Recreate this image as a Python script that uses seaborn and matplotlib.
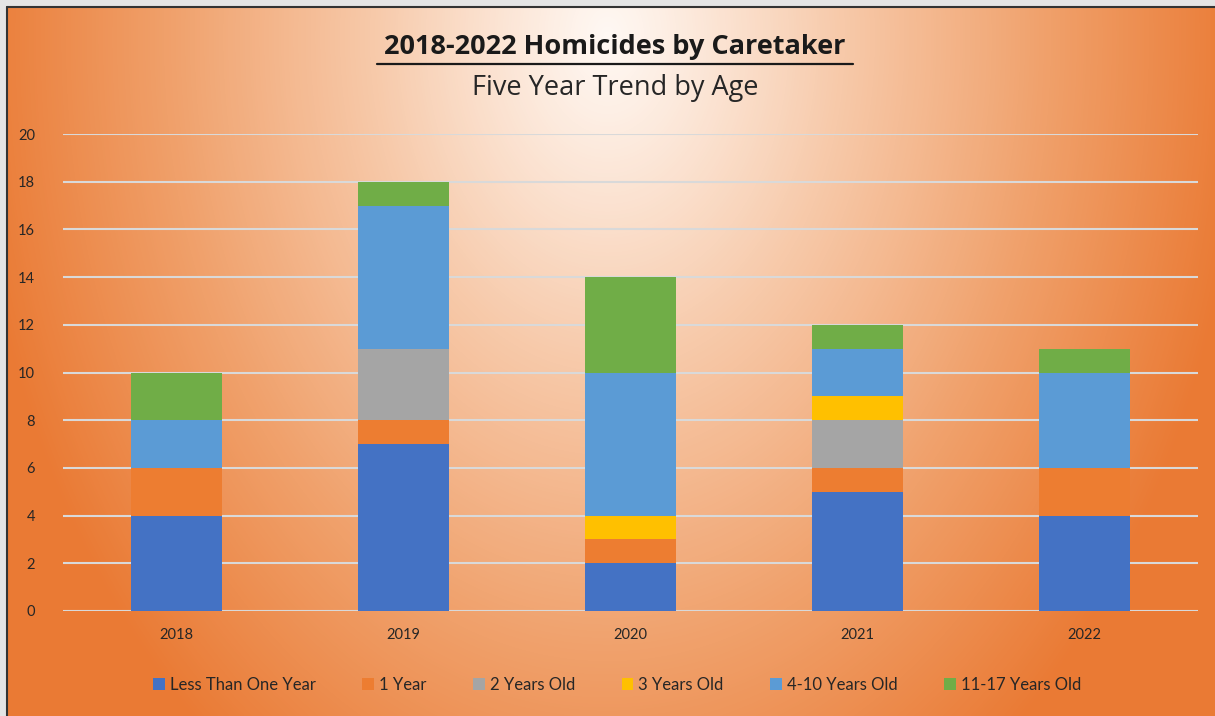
import numpy as np
import matplotlib
matplotlib.use("Agg")
import matplotlib.pyplot as plt
import seaborn as sns
from matplotlib.colors import LinearSegmentedColormap
from matplotlib.patches import Patch
from matplotlib.lines import Line2D

# data
years = ["2018", "2019", "2020", "2021", "2022"]
age_groups = ["Less Than One Year", "1 Year", "2 Years Old", "3 Years Old",
              "4-10 Years Old", "11-17 Years Old"]
less_than_one = [4, 7, 2, 5, 4]
one_year = [2, 1, 1, 1, 2]
two_years = [0, 3, 0, 2, 0]
three_years = [0, 0, 1, 1, 0]
four_to_ten = [2, 6, 6, 2, 4]
eleven_to_17 = [2, 1, 4, 1, 1]
series = [less_than_one, one_year, two_years, three_years, four_to_ten, eleven_to_17]
colors = ["#4472C4", "#ED7D31", "#A5A5A5", "#FFC000", "#5B9BD5", "#70AD47"]

sns.set_theme(style="white")
plt.rcParams['font.family'] = ['Lato', 'DejaVu Sans']

fig = plt.figure(figsize=(12.15, 7.16), dpi=100)
fig.patch.set_facecolor("#e4e4e4")

# orange radial gradient background
bg = fig.add_axes([7 / 1215, 0, 1 - 7 / 1215, 1 - 7 / 716])
W, H = 1208, 709
xx, yy = np.meshgrid(np.arange(W), np.arange(H))
d = np.sqrt(((xx - 600) / 640.0) ** 2 + ((yy - 30) / 900.0) ** 2)
d = np.clip(d, 0, 1) ** 1.1
cmap = LinearSegmentedColormap.from_list("bg", ["#FFF8F3", "#F7C9A9", "#F0A06A", "#EA7A34"])
bg.imshow(d, cmap=cmap, aspect="auto", extent=[0, 1, 0, 1], origin="upper", vmin=0, vmax=1)
bg.set_axis_off()
fig.add_artist(Line2D([7 / 1215, 1], [1 - 7 / 716, 1 - 7 / 716], color="#333333", lw=1.5))
fig.add_artist(Line2D([7 / 1215, 7 / 1215], [0, 1 - 7 / 716], color="#333333", lw=1.5))

ax = fig.add_axes([63 / 1215, 1 - 611 / 716, 1135 / 1215, 477 / 716])
ax.patch.set_alpha(0)
ax.set_axisbelow(True)

bottom = np.zeros(len(years))
for vals, c in zip(series, colors):
    sns.barplot(x=years, y=vals, bottom=bottom, color=c, width=0.405,
                saturation=1, linewidth=0, edgecolor="none", ax=ax, zorder=3)
    bottom = bottom + np.array(vals)

ax.set_ylim(0, 20)
ax.set_xlim(-0.5, 4.5)
ax.set_yticks(range(0, 21, 2))
ax.yaxis.grid(True, color="#D9D9D9", lw=1.5, zorder=0)
ax.xaxis.grid(False)
for s in ax.spines.values():
    s.set_visible(False)
ax.tick_params(axis="both", length=0, labelsize=10.5, labelcolor="#262626")
ax.tick_params(axis="y", pad=20)
ax.tick_params(axis="x", pad=12)
ax.set_xlabel("")
ax.set_ylabel("")

# title with underline
fig.text(615 / 1215, 1 - 47 / 716, "2018-2022 Homicides by Caretaker", ha="center", va="center",
         fontsize=19.5, fontweight="bold", color="#1a1a1a", family=["Open Sans", "DejaVu Sans"])
fig.add_artist(Line2D([377 / 1215, 853 / 1215], [1 - 64 / 716, 1 - 64 / 716], color="#1a1a1a", lw=1.6))
fig.text(615 / 1215, 1 - 88 / 716, "Five Year Trend by Age", ha="center", va="center",
         fontsize=19.5, color="#262626", family=["Open Sans", "DejaVu Sans"])

handles = [Patch(facecolor=c, edgecolor="none") for c in colors]
fig.legend(handles, age_groups, loc="center", bbox_to_anchor=(617 / 1215, 1 - 685 / 716),
           ncol=6, frameon=False, fontsize=12, handlelength=0.7, handleheight=0.7,
           handletextpad=0.3, columnspacing=2.8, labelcolor="#262626")

fig.savefig("out.png", dpi=100)
